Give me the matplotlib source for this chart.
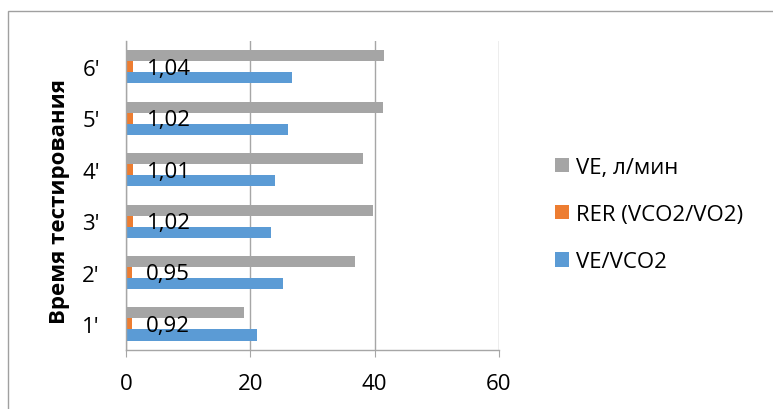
import numpy as np
import matplotlib
matplotlib.use('Agg')
import matplotlib.pyplot as plt
from matplotlib.patches import Rectangle

plt.rcParams['font.family'] = ['Open Sans', 'DejaVu Sans']

# данные
categories = ["1'", "2'", "3'", "4'", "5'", "6'"]
ve_vco2 = [21.0, 25.2, 23.3, 24.0, 26.0, 26.7]
rer = [0.92, 0.95, 1.02, 1.01, 1.02, 1.04]
ve = [18.9, 36.8, 39.7, 38.1, 41.4, 41.5]
rer_labels = ['0,92', '0,95', '1,02', '1,01', '1,02', '1,04']

names = ['VE/VCO2', 'RER (VCO2/VO2)', 'VE, л/мин']
colors = ['#5B9BD5', '#ED7D31', '#A5A5A5']
grid_col = '#A6A6A6'
fs = 16

fig = plt.figure(figsize=(7.73, 4.10), dpi=100)
ax = fig.add_axes([0.1634, 0.1446, 0.4818, 0.753])

y = np.arange(len(categories))
h = 0.214
b1 = ax.barh(y - h, ve_vco2, height=h, color=colors[0], label=names[0])
b2 = ax.barh(y, rer, height=h, color=colors[1], label=names[1])
b3 = ax.barh(y + h, ve, height=h, color=colors[2], label=names[2])

for i in range(len(rer)):
    ax.annotate(rer_labels[i], (rer[i], y[i]), xytext=(10, -1), textcoords='offset points',
                ha='left', va='center', fontsize=fs)

ax.set_xlim(0, 60)
ax.set_ylim(-0.5, 5.5)
ax.set_xticks([0, 20, 40, 60])
ax.set_yticks(y)
ax.set_yticklabels(categories)
ax.tick_params(axis='x', length=5, color=grid_col, labelsize=fs, pad=12)
ax.tick_params(axis='y', length=0, labelsize=fs, pad=19)
ax.xaxis.grid(True, color=grid_col, lw=1)
ax.set_axisbelow(True)
for s in ['top', 'right']:
    ax.spines[s].set_visible(False)
for s in ['left', 'bottom']:
    ax.spines[s].set_color(grid_col)
    ax.spines[s].set_linewidth(1)

fig.text(60 / 773, 1 - 201 / 410, 'Время тестирования', rotation=90,
         ha='center', va='center', fontsize=fs, fontweight='bold')

leg = fig.legend([b3, b2, b1], [names[2], names[1], names[0]], loc='center left',
                 bbox_to_anchor=(555 / 773, 1 - 215.5 / 410), frameon=False, fontsize=fs,
                 borderpad=0, borderaxespad=0, handlelength=0.63, handleheight=0.63,
                 handletextpad=0.32, labelspacing=1.18)

# рамка
fig.patches.append(Rectangle((8 / 773, -0.1), 2, 1 - 12 / 410 + 0.1, transform=fig.transFigure,
                             fill=False, edgecolor='#A0A0A0', lw=1))

fig.savefig('out.png', dpi=100)
